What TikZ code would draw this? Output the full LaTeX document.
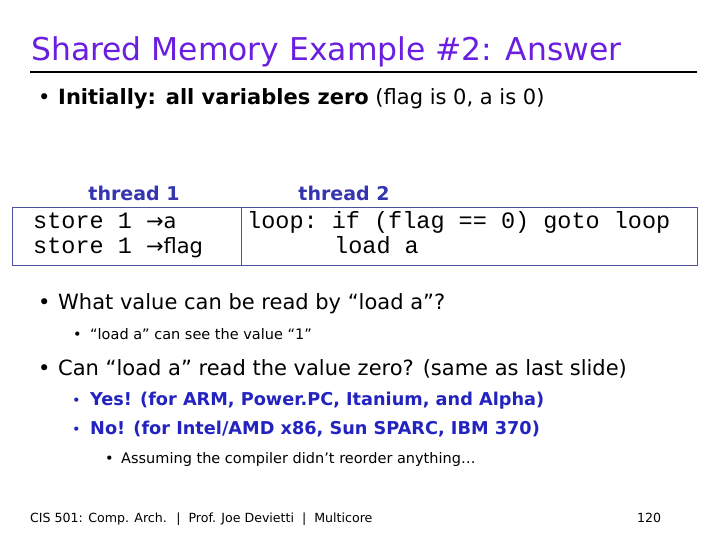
\documentclass[tikz,border=0pt]{standalone}
\usepackage{fontspec}
\setmainfont{DejaVu Sans}
\setmonofont{Liberation Mono}
\definecolor{titlec}{HTML}{6A1EE0}
\definecolor{thr}{HTML}{3535B0}
\definecolor{ans}{HTML}{2323C0}
\definecolor{boxc}{HTML}{5050A0}
\begin{document}
\begin{tikzpicture}[x=1pt,y=-1pt,
  t/.style={anchor=base west,inner sep=0pt},
  body/.style={t,font=\fontsize{21}{24}\selectfont},
  sub/.style={t,font=\fontsize{14.5}{17}\selectfont},
  subb/.style={t,text=ans,font=\fontsize{17.7}{20}\bfseries},
  code/.style={t,font=\fontsize{23.5}{26}\ttfamily}]
\useasboundingbox[fill=white] (0,0) rectangle (720,540);
\node[t,font=\fontsize{31.4}{36}\selectfont,text=titlec] (title) at (31,61) {Shared Memory Example \#2: Answer};
\coordinate (l1) at (30,72); \coordinate (l2) at (697,72);
\draw[line width=1.5pt] (l1) -- (l2);
\node[body] (b1) at (38,105) {•};
\node[body] (t1) at (58,105) {\textbf{Initially: all variables zero} (flag is 0, a is 0)};
\node[t,font=\fontsize{19}{22}\bfseries,text=thr,anchor=base] (h1) at (134,201) {thread 1};
\node[t,font=\fontsize{19}{22}\bfseries,text=thr,anchor=base] (h2) at (344,201) {thread 2};
\draw[boxc,line width=0.8pt] (12,207) rectangle (697,265);
\coordinate (d1) at (241,207); \coordinate (d2) at (241,265);
\draw[boxc,line width=0.8pt] (d1) -- (d2);
\node[code] (c1) at (33,229) {store 1 {\rmfamily\fontsize{21}{24}\selectfont→a}};
\node[code] (c2) at (33,254) {store 1 {\rmfamily\fontsize{21}{24}\selectfont→flag}};
\node[code] (c3) at (247,229) {loop: if (flag == 0) goto loop};
\node[code] (c4) at (334,254) {load a};
\node[body] (b2) at (38,309) {•};
\node[body] (t2) at (58,309) {What value can be read by “load a”?};
\node[sub] (b3) at (73,339) {•};
\node[sub] (t3) at (90,339) {“load a” can see the value “1”};
\node[body] (b4) at (38,375) {•};
\node[body] (t4) at (58,375) {Can “load a” read the value zero? (same as last slide)};
\node[sub,text=ans] (b5) at (72,405) {•};
\node[subb] (t5) at (90,405) {Yes! (for ARM, Power.PC, Itanium, and Alpha)};
\node[sub,text=ans] (b6) at (72,434) {•};
\node[subb] (t6) at (90,434) {No! (for Intel/AMD x86, Sun SPARC, IBM 370)};
\node[sub] (b7) at (105,463) {•};
\node[sub] (t7) at (121,463) {Assuming the compiler didn’t reorder anything…};
\node[t,font=\fontsize{12.6}{15}\selectfont] (f1) at (30,522) {CIS 501: Comp. Arch.~ |~ Prof. Joe Devietti~ |~ Multicore};
\node[t,font=\fontsize{12.6}{15}\selectfont] (f2) at (637,522) {120};
\end{tikzpicture}
\end{document}
